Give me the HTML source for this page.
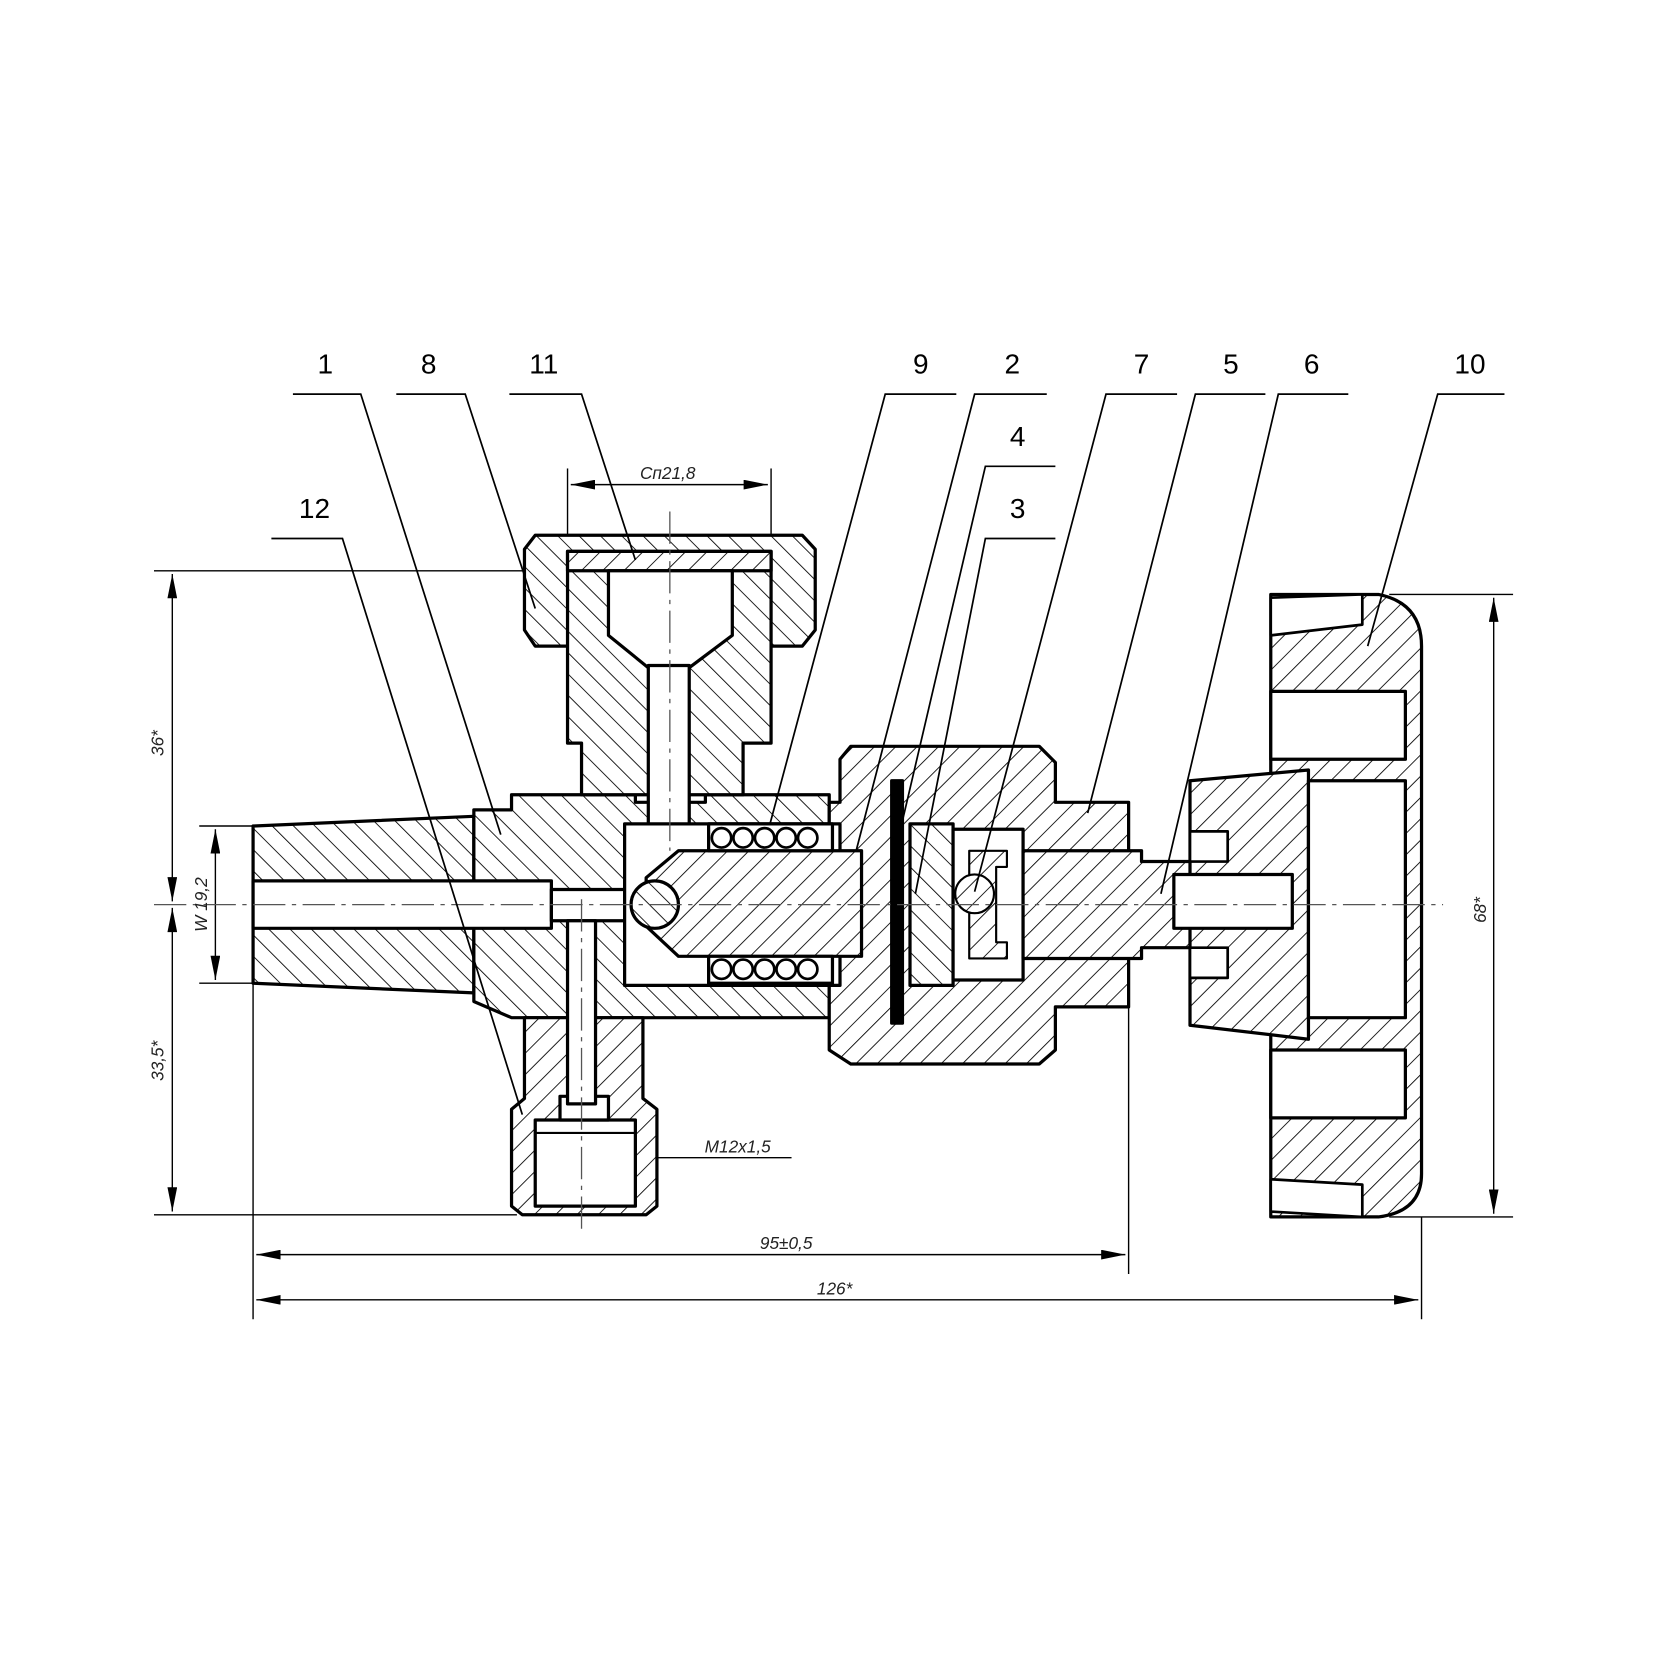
<!DOCTYPE html>
<html><head><meta charset="utf-8"><style>html,body{margin:0;background:#fff}svg{display:block}</style></head><body>
<svg width="1680" height="1680" viewBox="0 0 1560 1560" xmlns="http://www.w3.org/2000/svg">
<defs>
<pattern id="hA" width="14" height="14" patternUnits="userSpaceOnUse" patternTransform="rotate(45)"><rect width="14" height="14" fill="#fff"/><line x1="0" y1="0" x2="0" y2="14" stroke="#000" stroke-width="1.6"/></pattern>
<pattern id="hB" width="14" height="14" patternUnits="userSpaceOnUse" patternTransform="rotate(-45)"><rect width="14" height="14" fill="#fff"/><line x1="0" y1="0" x2="0" y2="14" stroke="#000" stroke-width="1.6"/></pattern>
<marker id="ar" viewBox="0 0 20 8" refX="20" refY="4" markerWidth="30" markerHeight="9" markerUnits="userSpaceOnUse" orient="auto-start-reverse"><path d="M0,0 L20,4 L0,8 Z" fill="#000"/></marker>
</defs>
<rect width="1560" height="1560" fill="#fff"/>
<g fill="none" stroke="#000" stroke-width="1.3">
<!-- extension / dimension lines -->
<line x1="143" y1="530" x2="520" y2="530"/>
<line x1="143" y1="1128" x2="480" y2="1128"/>
<line x1="185" y1="767" x2="235" y2="767"/>
<line x1="185" y1="913" x2="235" y2="913"/>
<line x1="160" y1="533" x2="160" y2="837" marker-start="url(#ar)" marker-end="url(#ar)"/>
<line x1="160" y1="843" x2="160" y2="1125" marker-start="url(#ar)" marker-end="url(#ar)"/>
<line x1="200" y1="770" x2="200" y2="910" marker-start="url(#ar)" marker-end="url(#ar)"/>
<line x1="527" y1="435" x2="527" y2="512"/><line x1="716" y1="435" x2="716" y2="512"/>
<line x1="530" y1="450" x2="713" y2="450" marker-start="url(#ar)" marker-end="url(#ar)"/>
<line x1="235" y1="913" x2="235" y2="1225"/><line x1="1048" y1="935" x2="1048" y2="1183"/><line x1="1320" y1="1130" x2="1320" y2="1225"/>
<line x1="238" y1="1165" x2="1045" y2="1165" marker-start="url(#ar)" marker-end="url(#ar)"/>
<line x1="238" y1="1207" x2="1317" y2="1207" marker-start="url(#ar)" marker-end="url(#ar)"/>
<line x1="1290" y1="552" x2="1405" y2="552"/><line x1="1290" y1="1130" x2="1405" y2="1130"/>
<line x1="1387" y1="555" x2="1387" y2="1127" marker-start="url(#ar)" marker-end="url(#ar)"/>
<line x1="500" y1="1075" x2="587" y2="1075" marker-start="url(#ar)" marker-end="url(#ar)"/>
<line x1="590" y1="1075" x2="735" y2="1075"/>
</g>
<!-- Parts -->
<g stroke="#000" stroke-width="3" stroke-linejoin="round">
<!-- inlet cone -->
<polygon points="235,767 440,758 440,922 235,913" fill="url(#hB)"/>
<!-- body 1 -->
<polygon points="440,752 475,752 475,738 590,738 590,745 655,745 655,738 770,738 770,945 610,945 475,945 440,930" fill="url(#hB)"/>
<!-- bottom fitting -->
<polygon points="487,945 597,945 597,1020 610,1030 610,1120 600,1128 485,1128 475,1120 475,1030 487,1020" fill="url(#hA)"/>
<rect x="497" y="1040" width="93" height="80" fill="#fff"/>
<rect x="520" y="1018" width="45" height="22" fill="#fff"/>
<line x1="497" y1="1052" x2="590" y2="1052" stroke-width="2"/>
<!-- top cap nut 8 -->
<polygon points="497,497 745,497 757,510 757,585 745,600 497,600 487,585 487,510" fill="url(#hB)"/>
<!-- top fitting -->
<polygon points="527,512 716,512 716,690 690,690 690,738 540,738 540,690 527,690" fill="url(#hB)"/>
<rect x="527" y="512" width="189" height="18" fill="url(#hA)"/>
<polygon points="565,530 680,530 680,590 640,620 602,620 565,590" fill="#fff"/>
<rect x="602" y="618" width="38" height="172" fill="#fff"/>
<!-- bores -->
<rect x="235" y="818" width="277" height="44" fill="#fff"/>
<rect x="512" y="826" width="70" height="29" fill="#fff"/>
<rect x="527" y="855" width="26" height="170" fill="#fff"/>
<!-- bonnet nut -->
<polygon points="770,745 780,745 780,705 790,693 965,693 980,708 980,745 1048,745 1048,935 980,935 980,975 965,988 790,988 770,975 770,945" fill="url(#hA)"/>
<!-- piston cavity -->
<rect x="580" y="765" width="200" height="150" fill="#fff"/>
<polygon points="630,790 800,790 800,888 630,888 600,860 600,815" fill="url(#hA)"/>
<rect x="658" y="765" width="115" height="25" fill="#fff"/>
<rect x="658" y="888" width="115" height="25" fill="#fff"/>
<circle cx="608" cy="840" r="22" fill="url(#hB)"/>
<!-- disc/diaphragm -->
<rect x="828" y="725" width="10" height="225" fill="#000"/>
<rect x="845" y="765" width="40" height="150" fill="url(#hB)"/>
<rect x="885" y="770" width="65" height="140" fill="#fff"/>
<polygon points="900,790 935,790 935,805 925,805 925,875 935,875 935,890 900,890" fill="url(#hA)" stroke-width="2"/>
<circle cx="905" cy="830" r="18" fill="url(#hA)" stroke-width="2"/>
<!-- spindle 6 -->
<polygon points="950,790 1060,790 1060,800 1140,800 1140,880 1060,880 1060,890 950,890" fill="url(#hA)"/>
<!-- handwheel -->
<path d="M1180,552 L1280,552 Q1320,560 1320,600 L1320,1090 Q1320,1125 1280,1130 L1180,1130 Z" fill="url(#hA)"/>
<path d="M1180,555 L1265,552 L1265,580 L1180,590 Z" fill="#fff" stroke-width="2.5"/>
<path d="M1180,1125 L1265,1130 L1265,1100 L1180,1095 Z" fill="#fff" stroke-width="2.5"/>
<rect x="1180" y="642" width="125" height="63" fill="#fff"/>
<rect x="1180" y="975" width="125" height="63" fill="#fff"/>
<polygon points="1105,725 1215,715 1215,965 1105,952" fill="url(#hA)"/>
<rect x="1215" y="725" width="90" height="220" fill="#fff"/>
<rect x="1090" y="812" width="110" height="50" fill="#fff"/>
<rect x="1105" y="772" width="35" height="28" fill="#fff" stroke-width="2.5"/>
<rect x="1105" y="880" width="35" height="28" fill="#fff" stroke-width="2.5"/>
</g>
<!-- springs -->
<g fill="#fff" stroke="#000" stroke-width="2.5">
<circle cx="670" cy="778" r="9"/><circle cx="690" cy="778" r="9"/><circle cx="710" cy="778" r="9"/><circle cx="730" cy="778" r="9"/><circle cx="750" cy="778" r="9"/>
<circle cx="670" cy="900" r="9"/><circle cx="690" cy="900" r="9"/><circle cx="710" cy="900" r="9"/><circle cx="730" cy="900" r="9"/><circle cx="750" cy="900" r="9"/>
</g>
<!-- centre lines -->
<g stroke="#555" stroke-width="1.2" stroke-dasharray="30,6,4,6" fill="none">
<line x1="143" y1="840" x2="1340" y2="840"/>
<line x1="622" y1="475" x2="622" y2="790"/>
<line x1="540" y1="835" x2="540" y2="1145"/>
</g>
<!-- leaders -->
<g stroke="#000" stroke-width="1.6" fill="none">
<polyline points="272,366 335,366 465,775"/>
<polyline points="368,366 432,366 497,565"/>
<polyline points="473,366 540,366 590,520"/>
<polyline points="252,500 318,500 485,1035"/>
<polyline points="888,366 822,366 715,765"/>
<polyline points="972,366 905,366 795,790"/>
<polyline points="980,433 915,433 835,775"/>
<polyline points="980,500 915,500 850,830"/>
<polyline points="1093,366 1027,366 905,828"/>
<polyline points="1175,366 1110,366 1010,755"/>
<polyline points="1252,366 1187,366 1078,830"/>
<polyline points="1397,366 1335,366 1270,600"/>
</g>
<g font-family="Liberation Sans, sans-serif" font-size="26" text-anchor="middle" fill="#000">
<text x="302" y="347">1</text><text x="398" y="347">8</text><text x="505" y="347">11</text>
<text x="292" y="481">12</text><text x="855" y="347">9</text><text x="940" y="347">2</text>
<text x="945" y="414">4</text><text x="945" y="481">3</text><text x="1060" y="347">7</text>
<text x="1143" y="347">5</text><text x="1218" y="347">6</text><text x="1365" y="347">10</text>
</g>
<g font-family="Liberation Sans, sans-serif" font-size="16" font-style="italic" fill="#222" text-anchor="middle">
<text x="620" y="445">Сп21,8</text>
<text x="685" y="1070">M12x1,5</text>
<text x="730" y="1160">95±0,5</text>
<text x="775" y="1202">126*</text>
<text transform="translate(152,690) rotate(-90)">36*</text>
<text transform="translate(152,985) rotate(-90)">33,5*</text>
<text transform="translate(192,840) rotate(-90)">W 19,2</text>
<text transform="translate(1380,845) rotate(-90)">68*</text>
</g>
</svg>
</body></html>
